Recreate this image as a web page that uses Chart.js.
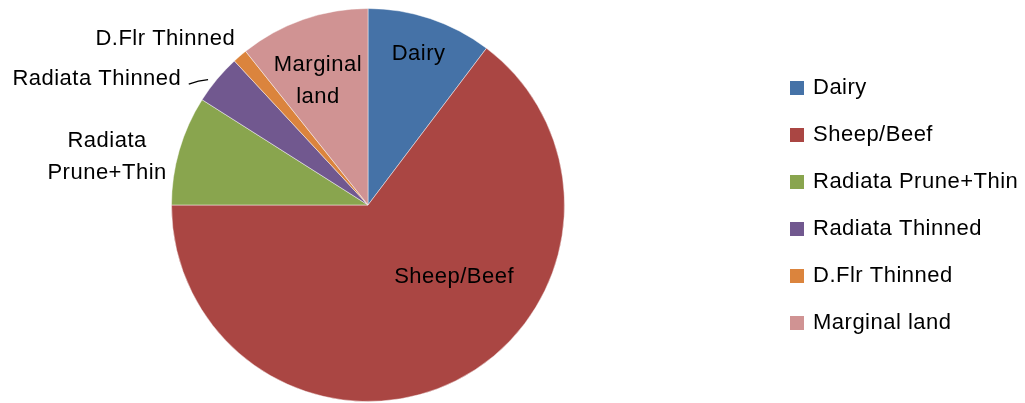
<!DOCTYPE html>
<html lang="en">
<head>
    <meta charset="UTF-8">
    <title>Land use pie</title>
    <script src="https://cdn.jsdelivr.net/npm/chart.js"></script>
    <style>
        html, body { margin: 0; padding: 0; background: #fff; overflow: hidden; }
    </style>
</head>
<body>
    <canvas id="pieChart" width="1025" height="403"></canvas>

    <script>
        // Data (percent of total)
        const categories = ['Dairy', 'Sheep/Beef', 'Radiata Prune+Thin', 'Radiata Thinned', 'D.Flr Thinned', 'Marginal land'];
        const shares = [10.3, 64.7, 9.0, 4.1, 1.2, 10.7];
        const colors = ['#4572A7', '#AA4643', '#89A54E', '#71588F', '#DB843D', '#D09393'];

        const FONT = '22px "Liberation Sans", Arial, sans-serif';
        const SPACING = '0.5px';

        // where each slice label sits: angle offset from slice middle (deg), radius factor
        const labelPlaces = [
            { lines: ['Dairy'], off: 0, r: 0.81, align: 'center' },
            { lines: ['Sheep/Beef'], off: -23.8, r: 0.57, align: 'center' },
            { lines: ['Radiata', 'Prune+Thin'], off: -5.8, r: 1.35, align: 'center' },
            { lines: ['Radiata Thinned'], off: -5.7, r: 1.147, align: 'right',
              leader: [[-5.8, 1.10], [-3.5, 1.07], [-1.7, 1.034]] },
            { lines: ['D.Flr Thinned'], off: 2.1, r: 1.084, align: 'right' },
            { lines: ['Marginal', 'land'], off: -2.75, r: 0.68, align: 'center' }
        ];

        const sliceLabels = {
            id: 'sliceLabels',
            afterDatasetsDraw(chart) {
                const ctx = chart.ctx;
                const arcs = chart.getDatasetMeta(0).data;
                ctx.save();
                ctx.font = FONT;
                ctx.fillStyle = '#000';
                ctx.textBaseline = 'middle';
                if ('letterSpacing' in ctx) ctx.letterSpacing = SPACING;
                arcs.forEach((arc, i) => {
                    const p = labelPlaces[i];
                    const mid = (arc.startAngle + arc.endAngle) / 2;
                    const R = arc.outerRadius;
                    const at = (offDeg, rf) => {
                        const a = mid + offDeg * Math.PI / 180;
                        return [arc.x + rf * R * Math.cos(a), arc.y + rf * R * Math.sin(a)];
                    };
                    const [x, y] = at(p.off, p.r);
                    ctx.textAlign = p.align;
                    const lh = 32;
                    const y0 = y - (p.lines.length - 1) * lh / 2;
                    p.lines.forEach((t, k) => ctx.fillText(t, x, y0 + k * lh));
                    if (p.leader) {
                        const pts = p.leader.map(q => at(q[0], q[1]));
                        ctx.beginPath();
                        ctx.strokeStyle = '#000';
                        ctx.lineWidth = 1.3;
                        ctx.moveTo(pts[0][0], pts[0][1]);
                        ctx.quadraticCurveTo(pts[1][0], pts[1][1], pts[2][0], pts[2][1]);
                        ctx.stroke();
                    }
                });
                ctx.restore();
            }
        };

        const sideLegend = {
            id: 'sideLegend',
            afterDraw(chart) {
                const ctx = chart.ctx;
                ctx.save();
                ctx.font = FONT;
                ctx.textBaseline = 'middle';
                ctx.textAlign = 'left';
                if ('letterSpacing' in ctx) ctx.letterSpacing = SPACING;
                categories.forEach((name, i) => {
                    const cy = 88 + i * 47;
                    ctx.fillStyle = colors[i];
                    ctx.fillRect(790, cy - 7, 14, 14);
                    ctx.fillStyle = '#000';
                    ctx.fillText(name, 813, cy);
                });
                ctx.restore();
            }
        };

        const ctx = document.getElementById('pieChart').getContext('2d');
        new Chart(ctx, {
            type: 'pie',
            data: {
                labels: categories,
                datasets: [{
                    data: shares,
                    backgroundColor: colors,
                    borderColor: 'rgba(255,255,255,0.45)',
                    borderWidth: 1
                }]
            },
            options: {
                responsive: false,
                animation: false,
                layout: { padding: { left: 171, right: 460, top: 8, bottom: 1 } },
                plugins: {
                    legend: { display: false },
                    tooltip: { enabled: false }
                }
            },
            plugins: [sliceLabels, sideLegend]
        });
    </script>
</body>
</html>
